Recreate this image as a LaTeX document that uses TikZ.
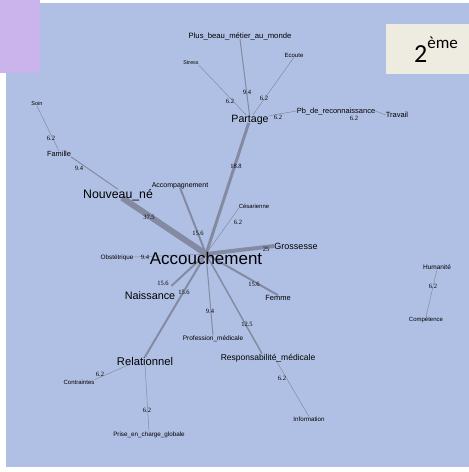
\documentclass[tikz,border=0pt]{standalone}
\usepackage{fontspec}
\setmainfont{Liberation Sans}
\newfontfamily\chiffres{Liberation Serif}
\newfontfamily\calib{Carlito}
\definecolor{fondbleu}{RGB}{176,192,228}
\definecolor{mauve}{RGB}{203,180,236}
\definecolor{beige}{RGB}{238,236,225}
\definecolor{trait}{RGB}{132,138,162}
\pgfdeclarelayer{fond}
\pgfdeclarelayer{liens}
\pgfsetlayers{fond,liens,main}
\tikzset{
  terme/.style={font=\fontsize{#1}{#1}\selectfont, inner sep=0pt, text depth=0pt},
  poids/.style={font=\chiffres\fontsize{6.5}{6.5}\selectfont, inner sep=0pt},
}
\newcommand{\lien}[3]{\draw[trait, line width=#3] (#1) -- (#2)}
\newcommand{\poids}[3]{\node[poids] (#1) at (#2) {#3}}

\begin{document}
\begin{tikzpicture}[x=1pt,y=-1pt]
\useasboundingbox (0,0) rectangle (469,472);
\begin{pgfonlayer}{fond}
	\fill[fondbleu] (6,3) rectangle (469,467);
\end{pgfonlayer}
\fill[mauve] (0,0) rectangle (40,73);
\fill[beige] (386,24) rectangle (469,74);
\node[font=\calib\fontsize{26}{26}\selectfont, inner sep=0pt, anchor=base west] (rang) at (414,62)
	{2\raisebox{14pt}{\fontsize{17}{17}\selectfont ème}};
%
	\node[terme=17] (accou) at (206,258) {Accouchement};
	\node[terme=10.6] (part) at (250,119) {Partage};
	\node[terme=12.3] (nouv) at (118,194) {Nouveau\_né};
	\node[terme=9] (gros) at (296,246) {Grossesse};
	\node[terme=10.8] (nais) at (150,296) {Naissance};
	\node[terme=11.2] (rela) at (145,361) {Relationnel};
	\node[terme=8.5] (resp) at (268,357) {Responsabilité\_médicale};
%
	\node[terme=7.4] (fami) at (59,154) {Famille};
	\node[terme=5.5] (soin) at (37,104) {Soin};
	\node[terme=7] (accomp) at (180,185) {Accompagnement};
	\node[terme=5.9] (cesa) at (254,206) {Césarienne};
	\node[terme=7.5] (femm) at (278,298) {Femme};
	\node[terme=6.3] (obst) at (117,257) {Obstétrique};
	\node[terme=6.5] (prof) at (213,338) {Profession\_médicale};
	\node[terme=6] (cont) at (79,382) {Contraintes};
	\node[terme=6.3] (pris) at (149,434) {Prise\_en\_charge\_globale};
	\node[terme=6.2] (info) at (309,419) {Information};
	\node[terme=6.5] (huma) at (437,267) {Humanité};
	\node[terme=6] (comp) at (426,319) {Compétence};
	\node[terme=7.7] (plus) at (240,36) {Plus\_beau\_métier\_au\_monde};
	\node[terme=6] (ecou) at (294,55) {Ecoute};
	\node[terme=5.3] (stre) at (191,63) {Stress};
	\node[terme=7.5] (pbre) at (336,111) {Pb\_de\_reconnaissance};
	\node[terme=7.5] (trav) at (397,115) {Travail};
%
\begin{pgfonlayer}{liens}
	\lien{[yshift=4pt]accou.center}{[xshift=4pt,yshift=1pt]nouv.south}{6pt};
	\lien{[yshift=4pt]accou.center}{part}{3pt};
	\lien{[yshift=4pt]accou.center}{gros.west}{4pt};
	\lien{[yshift=4pt]accou.center}{accomp.south}{2pt};
	\lien{[yshift=4pt]accou.center}{cesa.south west}{0.5pt};
	\lien{[yshift=4pt]accou.center}{femm.north}{2pt};
	\lien{[yshift=4pt]accou.center}{[xshift=-6pt]resp.north}{1.5pt};
	\lien{[yshift=4pt]accou.center}{prof.north}{1pt};
	\lien{[yshift=4pt]accou.center}{[xshift=-4pt,yshift=6pt]nais.north east}{2pt};
	\lien{[yshift=4pt]accou.center}{rela.north}{2pt};
	\lien{[yshift=4pt]accou.center}{obst.east}{0.5pt};
%
	\lien{part}{plus.south}{1pt};
	\lien{part}{stre.south east}{0.5pt};
	\lien{part}{ecou.south}{0.5pt};
	\lien{part}{pbre.west}{0.5pt};
	\lien{pbre.east}{trav.west}{0.5pt};
%
	\lien{soin.south}{fami.north}{0.5pt};
	\lien{fami.south east}{nouv.north}{1pt};
	\lien{[xshift=11pt]rela.south west}{cont.north east}{0.5pt};
	\lien{rela.south}{pris.north}{0.5pt};
	\lien{[xshift=8pt]resp.south}{info.north}{0.5pt};
	\lien{huma.south}{comp.north}{0.5pt};
\end{pgfonlayer}
%
	\poids{p1}{149,217}{37.5};
	\poids{p2}{236,166}{18.8};
	\poids{p3}{198,233}{15.6};
	\poids{p4}{238,222}{6.2};
	\poids{p5}{266,249}{25};
	\poids{p6}{254,284}{15.6};
	\poids{p7}{247,324}{12.5};
	\poids{p8}{210,311}{9.4};
	\poids{p9}{163,283}{15.6};
	\poids{p10}{184,292}{15.6};
	\poids{p11}{145,257}{9.4};
	\poids{p12}{247,92}{9.4};
	\poids{p13}{230,101}{6.2};
	\poids{p14}{264,98}{6.2};
	\poids{p15}{278,117}{6.2};
	\poids{p16}{354,118}{6.2};
	\poids{p17}{51,138}{6.2};
	\poids{p18}{79,168}{9.4};
	\poids{p19}{100,374}{6.2};
	\poids{p20}{147,410}{6.2};
	\poids{p21}{282,378}{6.2};
	\poids{p22}{433,286}{6.2};
%
\end{tikzpicture}
\end{document}
